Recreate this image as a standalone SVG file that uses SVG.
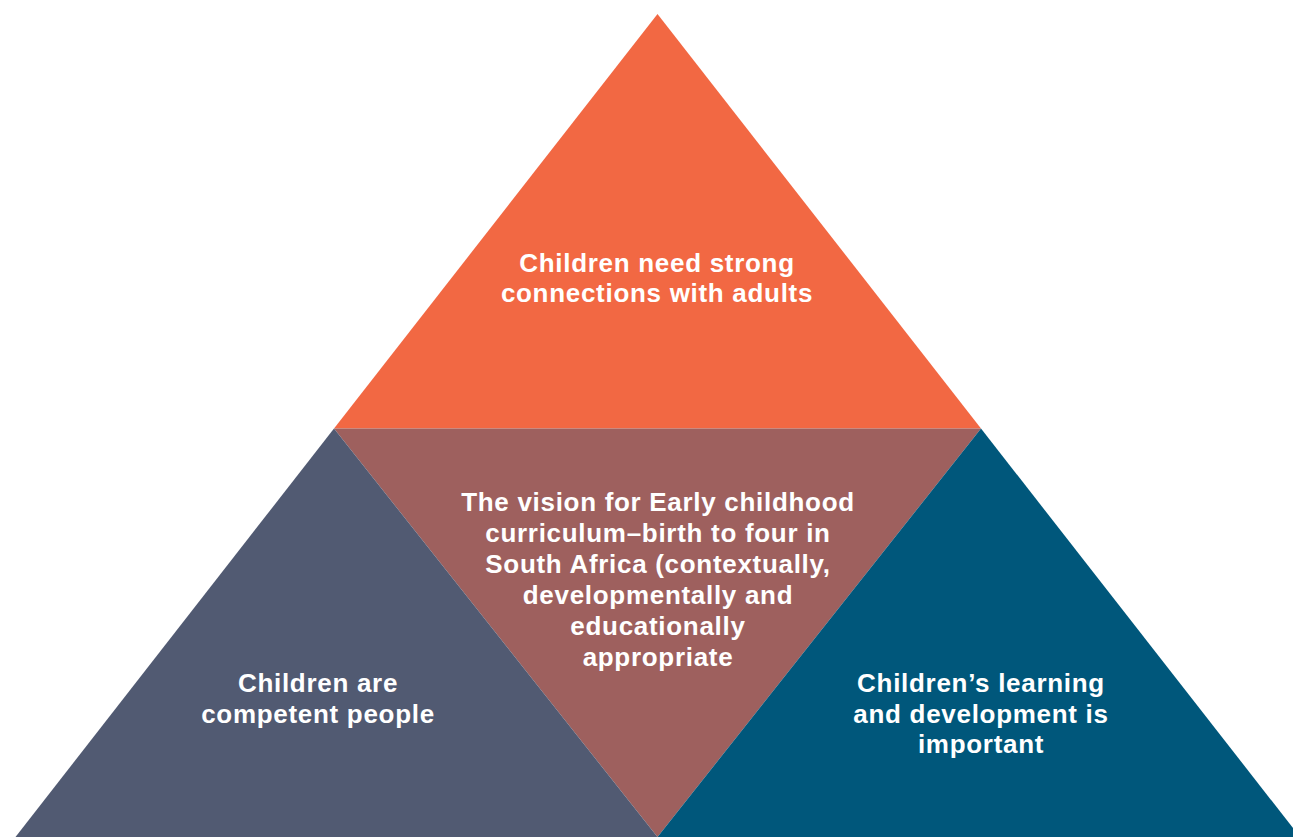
<svg xmlns="http://www.w3.org/2000/svg" width="1293" height="837" viewBox="0 0 1293 837">
<style>
.t{font-family:"Liberation Sans",Arial,sans-serif;font-weight:bold;font-size:26px;fill:#ffffff;text-anchor:middle;letter-spacing:0.7px}
</style>
<rect width="1293" height="837" fill="#ffffff"/>
<g id="top">
<polygon points="657.5,14 981,428.5 334,428.5" fill="#F26843"/>
<text class="t" x="657" y="272">Children need strong</text>
<text class="t" x="657" y="302">connections with adults</text>
</g>
<g id="center">
<polygon points="334,428.5 981,428.5 657.5,837" fill="#9E605E"/>
<text class="t" x="658" y="511">The vision for Early childhood</text>
<text class="t" x="658" y="542">curriculum–birth to four in</text>
<text class="t" x="658" y="573">South Africa (contextually,</text>
<text class="t" x="658" y="604">developmentally and</text>
<text class="t" x="658" y="635">educationally</text>
<text class="t" x="658" y="666">appropriate</text>
</g>
<g id="left">
<polygon points="334,428.5 657.5,837 15.5,837" fill="#515A72"/>
<text class="t" x="318" y="692">Children are</text>
<text class="t" x="318" y="723">competent people</text>
</g>
<g id="right">
<polygon points="981,428.5 1300,837 657.5,837" fill="#00577B"/>
<text class="t" x="981" y="692">Children’s learning</text>
<text class="t" x="981" y="723">and development is</text>
<text class="t" x="981" y="753">important</text>
</g>
<g id="connectors"></g>
</svg>
